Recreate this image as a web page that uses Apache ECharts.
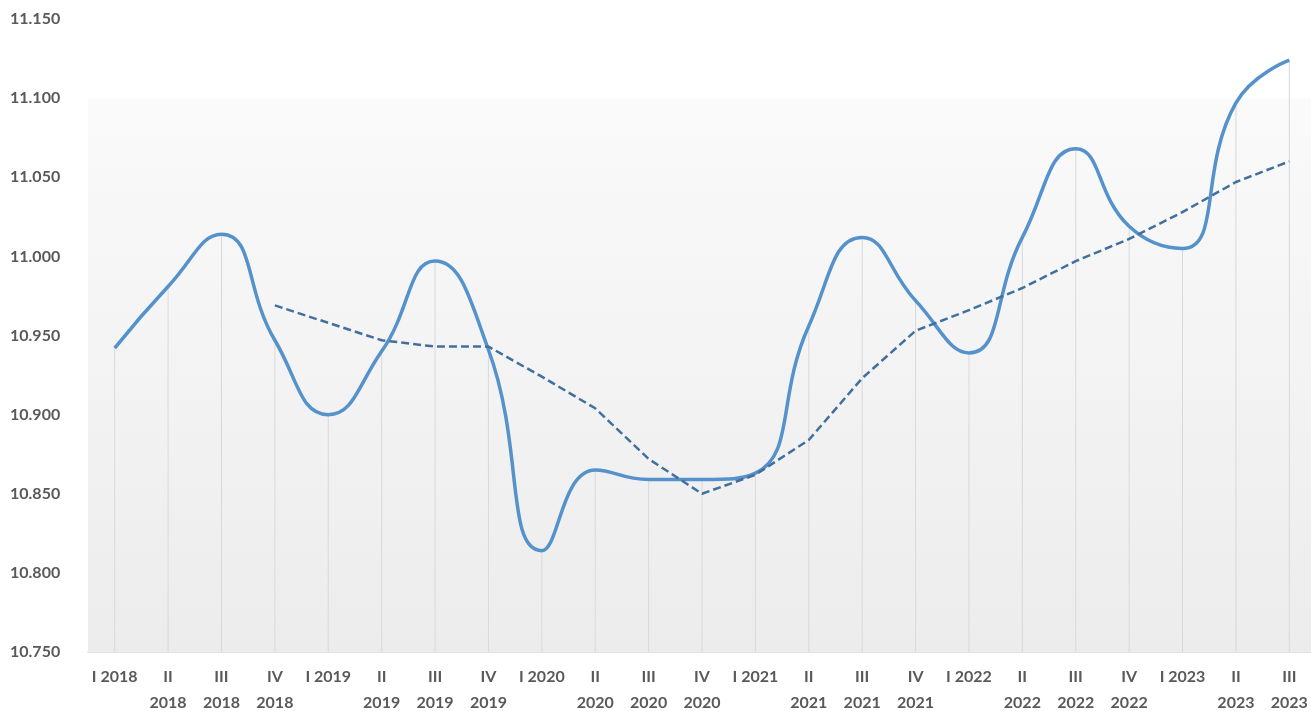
<!DOCTYPE html>
<html>
<head>
<meta charset="utf-8">
<script src="https://cdn.jsdelivr.net/npm/echarts@6/dist/echarts.min.js"></script>
<style>
html,body{margin:0;padding:0;background:#fff;overflow:hidden;width:100%;height:100%;}
#chart{width:1311px;height:711px;}
</style>
</head>
<body>
<div id="chart"></div>
<script>
const categories = ['I 2018','II\n2018','III\n2018','IV\n2018','I 2019','II\n2019','III\n2019','IV\n2019',
  'I 2020','II\n2020','III\n2020','IV\n2020','I 2021','II\n2021','III\n2021','IV\n2021',
  'I 2022','II\n2022','III\n2022','IV\n2022','I 2023','II\n2023','III\n2023'];
const actual = [10.942,10.981,11.014,10.947,10.900,10.940,10.997,10.941,
  10.814,10.865,10.859,10.859,10.863,10.956,11.012,10.972,
  10.939,11.012,11.068,11.019,11.005,11.097,11.124];
const trend = [null,null,null,10.969,10.958,10.947,10.943,10.943,
  10.924,10.904,10.872,10.850,10.862,10.884,10.923,10.953,
  10.966,10.980,10.997,11.011,11.028,11.047,11.060];
const yMin = 10.75, yMax = 11.15, yStep = 0.05, shadeTop = 11.10;

const chart = echarts.init(document.getElementById('chart'));
const fmt = v => v.toFixed(3);
chart.setOption({
  animation: false,
  grid: {left: 88, right: -5, top: 19, bottom: 59, containLabel: false, outerBoundsMode: 'none'},
  xAxis: {
    type: 'category', data: categories, boundaryGap: true,
    axisLine: {lineStyle: {color: '#d9d9d9', width: 1.5}},
    axisTick: {show: false},
    axisLabel: {interval: 0, color: '#595959', fontFamily: 'Lato', fontWeight: 'bold', fontSize: 16, lineHeight: 26, margin: 12},
    splitLine: {show: false}
  },
  yAxis: {
    type: 'value', min: yMin, max: yMax, interval: yStep,
    axisLine: {show: false}, axisTick: {show: false}, splitLine: {show: false},
    axisLabel: {formatter: fmt, color: '#595959', fontFamily: 'Lato', fontWeight: 'bold', fontSize: 16, align: 'left', margin: 78}
  },
  series: [
    {
      type: 'bar', data: actual, barWidth: 1, silent: true, z: 1,
      itemStyle: {color: '#d9d9d9'},
      markArea: {
        silent: true,
        itemStyle: {color: {type: 'linear', x: 0, y: 0, x2: 0, y2: 1,
          colorStops: [{offset: 0, color: '#fafafa'}, {offset: 1, color: '#ececec'}]}},
        data: [[{yAxis: yMin}, {yAxis: shadeTop}]]
      }
    },
    {
      type: 'line', data: actual, smooth: 0.5, symbol: 'none', z: 3,
      lineStyle: {color: '#5592cc', width: 3.5}
    },
    {
      type: 'line', data: trend, smooth: false, symbol: 'none', z: 4,
      lineStyle: {color: '#41709f', width: 2.5, type: [8, 4]}
    }
  ]
});
</script>
</body>
</html>
